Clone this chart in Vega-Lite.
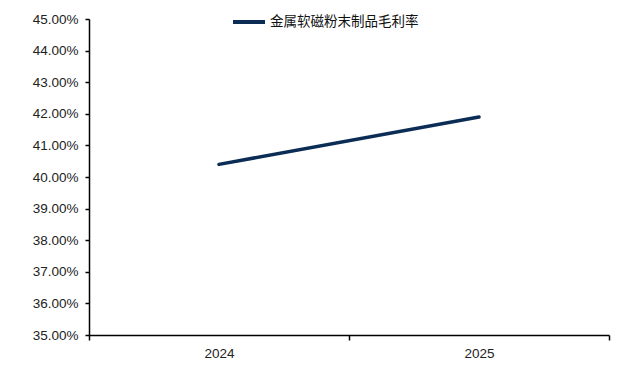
{
  "$schema": "https://vega.github.io/schema/vega-lite/v6.json",
  "width": 520,
  "height": 316,
  "autosize": {"type": "none"},
  "padding": {"left": 89, "top": 19, "right": 15, "bottom": 37},
  "background": "white",
  "config": {
    "view": {"stroke": null},
    "font": "Liberation Sans"
  },
  "data": {
    "values": [
      {"year": "2024", "series": "金属软磁粉末制品毛利率", "value": 0.404},
      {"year": "2025", "series": "金属软磁粉末制品毛利率", "value": 0.419}
    ]
  },
  "mark": {"type": "line", "strokeWidth": 3.5, "strokeCap": "round"},
  "encoding": {
    "x": {
      "field": "year",
      "type": "ordinal",
      "scale": {"type": "band", "paddingInner": 0, "paddingOuter": 0},
      "axis": {
        "title": null,
        "labelAngle": 0,
        "tickBand": "extent",
        "domainColor": "#000000",
        "domainWidth": 1.5,
        "tickColor": "#000000",
        "tickWidth": 1.5,
        "tickSize": 5,
        "labelFont": "Liberation Sans",
        "labelFontSize": 13.5,
        "labelColor": "#222222",
        "labelPadding": 6
      }
    },
    "y": {
      "field": "value",
      "type": "quantitative",
      "scale": {"domain": [0.35, 0.45], "nice": false, "zero": false},
      "axis": {
        "title": null,
        "values": [0.35, 0.36, 0.37, 0.38, 0.39, 0.40, 0.41, 0.42, 0.43, 0.44, 0.45],
        "format": ".2%",
        "grid": false,
        "domainColor": "#000000",
        "domainWidth": 1.5,
        "tickColor": "#000000",
        "tickWidth": 1.5,
        "tickSize": 4,
        "labelFont": "Liberation Sans",
        "labelFontSize": 13.5,
        "labelColor": "#222222",
        "labelPadding": 7
      }
    },
    "color": {
      "field": "series",
      "type": "nominal",
      "scale": {"range": ["#0b2d55"]},
      "legend": {
        "title": null,
        "orient": "none",
        "legendX": 142,
        "legendY": -15,
        "symbolType": "stroke",
        "symbolStrokeWidth": 4,
        "symbolSize": 1024,
        "labelFont": "Noto Sans CJK SC",
        "labelFontSize": 13.5,
        "labelColor": "#111111",
        "labelOffset": 3
      }
    }
  }
}
